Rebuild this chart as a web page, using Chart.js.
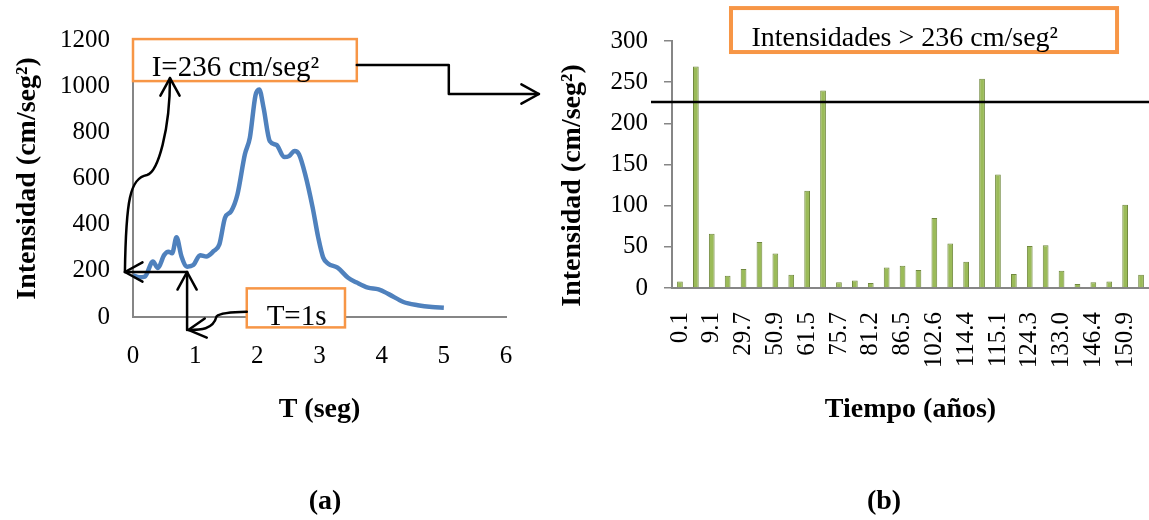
<!DOCTYPE html>
<html>
<head>
<meta charset="utf-8">
<script src="https://cdn.jsdelivr.net/npm/chart.js@4.4.0/dist/chart.umd.min.js"></script>
<style>
  body { margin: 0; background: #fff; }
  #wrap { position: relative; width: 1149px; height: 520px; overflow: hidden; }
  #chartA { position: absolute; left: 0; top: 0; }
  #chartB { position: absolute; left: 556px; top: 0; }
  .cap { position: absolute; top: 483px; transform: translateX(-50%); font: bold 28px 'Liberation Serif', serif; line-height: 34px; }
</style>
</head>
<body>
<div id="wrap">
  <canvas id="chartA" width="556" height="520"></canvas>
  <canvas id="chartB" width="593" height="520"></canvas>
  <div class="cap" style="left:325px">(a)</div>
  <div class="cap" style="left:884px">(b)</div>
</div>
<script>
const FONT = "'Liberation Serif', 'Times New Roman', serif";
const GREY = '#868686';
const ORANGE = '#F79646';

// (a) espectro de respuesta
const periodT = [0, 0.1, 0.19, 0.32, 0.4, 0.5, 0.57, 0.63, 0.7, 0.78, 0.87, 0.97, 1.08, 1.18, 1.3, 1.39, 1.48, 1.58, 1.68, 1.8, 1.88, 1.97, 2.03, 2.1, 2.2, 2.31, 2.43, 2.51, 2.6, 2.67, 2.77, 2.89, 2.98, 3.06, 3.14, 3.29, 3.46, 3.6, 3.78, 3.95, 4.12, 4.35, 4.58, 4.81, 5.0];
const intensityA = [180, 172, 175, 240, 212, 268, 283, 276, 345, 262, 218, 225, 268, 262, 286, 315, 430, 459, 531, 705, 777, 960, 986, 907, 762, 745, 693, 697, 719, 705, 618, 474, 344, 257, 231, 214, 170, 149, 127, 120, 98, 65, 51, 43, 40];

// (b) intensidades en el tiempo
const years = ['0.1', '', '9.1', '', '29.7', '', '50.9', '', '61.5', '', '75.7', '', '81.2', '', '86.5', '', '102.6', '', '114.4', '', '115.1', '', '124.3', '', '133.0', '', '146.4', '', '150.9', ''];
const intensityB = [8, 269, 66, 15, 23, 56, 42, 16, 118, 240, 7, 9, 6, 25, 27, 22, 85, 54, 32, 254, 138, 17, 51, 52, 21, 5, 7, 8, 101, 16];
const threshold = 226;

Chart.defaults.font.family = FONT;
Chart.defaults.color = '#000';

function arrowHead(ctx, tx, ty, fx, fy) {
  const a = Math.atan2(fy - ty, fx - tx), len = 20, ang = 0.5;
  ctx.beginPath();
  ctx.moveTo(tx + len * Math.cos(a + ang), ty + len * Math.sin(a + ang));
  ctx.lineTo(tx, ty);
  ctx.lineTo(tx + len * Math.cos(a - ang), ty + len * Math.sin(a - ang));
  ctx.stroke();
}

function noteBox(ctx, x1, y1, x2, y2, lw) {
  ctx.fillStyle = '#fff';
  ctx.fillRect(x1, y1, x2 - x1, y2 - y1);
  ctx.strokeStyle = ORANGE;
  ctx.lineWidth = lw;
  ctx.strokeRect(x1, y1, x2 - x1, y2 - y1);
}

// notas y flechas del panel (a)
const notesA = {
  id: 'notesA',
  afterDraw(chart) {
    const { ctx, scales: { x, y } } = chart;
    const X = v => x.getPixelForValue(v), Y = v => y.getPixelForValue(v);
    ctx.save();
    noteBox(ctx, X(0), Y(1204), X(3.6), Y(1022), 2.5);
    noteBox(ctx, X(1.83), Y(124), X(3.41), Y(-45), 2.5);
    ctx.fillStyle = '#000';
    ctx.font = '29px ' + FONT;
    ctx.textBaseline = 'alphabetic';
    ctx.fillText('I=236 cm/seg²', X(0.3), Y(1044));
    ctx.fillText('T=1s', X(2.15), Y(-35));

    ctx.strokeStyle = '#000';
    ctx.lineWidth = 2.5;
    ctx.lineCap = 'round';
    ctx.lineJoin = 'round';
    // hacia el panel (b)
    ctx.beginPath();
    ctx.moveTo(X(3.6), Y(1092));
    ctx.lineTo(X(5.08), Y(1092));
    ctx.lineTo(X(5.08), Y(966));
    ctx.lineTo(X(6.53), Y(966));
    ctx.stroke();
    arrowHead(ctx, X(6.53), Y(966), X(5.08), Y(966));
    // curva hacia I=236
    ctx.beginPath();
    ctx.moveTo(X(-0.13), Y(195));
    ctx.bezierCurveTo(X(-0.113), Y(507), X(-0.048), Y(602), X(0.225), Y(615));
    ctx.bezierCurveTo(X(0.402), Y(628), X(0.595), Y(810), X(0.595), Y(1035));
    ctx.stroke();
    arrowHead(ctx, X(0.595), Y(1035), X(0.595), Y(900));
    // horizontal y vertical
    ctx.beginPath();
    ctx.moveTo(X(0.87), Y(195));
    ctx.lineTo(X(-0.13), Y(195));
    ctx.stroke();
    arrowHead(ctx, X(-0.13), Y(195), X(0.87), Y(195));
    ctx.beginPath();
    ctx.moveTo(X(0.87), Y(-56));
    ctx.lineTo(X(0.87), Y(195));
    ctx.stroke();
    arrowHead(ctx, X(0.87), Y(195), X(0.87), Y(-56));
    // desde T=1s
    ctx.beginPath();
    ctx.moveTo(X(1.83), Y(23));
    ctx.bezierCurveTo(X(1.53), Y(22), X(1.4), Y(17), X(1.345), Y(3));
    ctx.bezierCurveTo(X(1.29), Y(-56), X(1.08), Y(-56), X(0.89), Y(-56));
    ctx.stroke();
    arrowHead(ctx, X(0.89), Y(-56), X(1.1), Y(-50));
    ctx.restore();
  }
};

// recuadro y umbral del panel (b)
const notesB = {
  id: 'notesB',
  afterDraw(chart) {
    const { ctx, scales: { x, y } } = chart;
    const X = v => x.getPixelForValue(v), Y = v => y.getPixelForValue(v);
    ctx.save();
    ctx.strokeStyle = '#000';
    ctx.lineWidth = 2.5;
    ctx.beginPath();
    ctx.moveTo(X(-1.82), Y(threshold));
    ctx.lineTo(chart.width, Y(threshold));
    ctx.stroke();
    noteBox(ctx, X(3.21), Y(340), X(27.49), Y(286.6), 4);
    ctx.fillStyle = '#000';
    ctx.font = '28px ' + FONT;
    ctx.fillText('Intensidades > 236 cm/seg²', X(4.5), Y(294));
    ctx.restore();
  }
};

const titleFont = { family: FONT, size: 28, weight: 'bold' };
const tickFont = { family: FONT, size: 25 };
const plain = v => String(v);

new Chart(document.getElementById('chartA'), {
  type: 'line',
  data: {
    datasets: [{
      data: periodT.map((t, i) => ({ x: t, y: intensityA[i] })),
      borderColor: '#4F81BD',
      borderWidth: 4.5,
      pointRadius: 0,
      cubicInterpolationMode: 'monotone',
      fill: false
    }]
  },
  options: {
    responsive: false,
    animation: false,
    layout: { padding: { top: 40, right: 50, left: 0, bottom: 0 } },
    plugins: { legend: { display: false }, tooltip: { enabled: false } },
    scales: {
      x: {
        type: 'linear', min: 0, max: 6,
        ticks: { stepSize: 1, padding: 24, font: tickFont, callback: plain },
        grid: { display: false, drawTicks: false },
        border: { display: true, color: GREY, width: 2 },
        title: { display: true, text: 'T (seg)', font: titleFont, padding: { top: 0, bottom: 93 } },
        afterFit(s) { s.height = 203; s.paddingLeft = 0; s.paddingRight = 0; }
      },
      y: {
        min: 0, max: 1200,
        ticks: { stepSize: 200, padding: 23, font: tickFont, callback: plain },
        grid: { display: false, drawTicks: false },
        border: { display: true, color: GREY, width: 2 },
        title: { display: true, text: 'Intensidad (cm/seg²)', font: titleFont, padding: { top: 11, bottom: 0 } },
        afterFit(s) { s.width = 133; }
      }
    }
  },
  plugins: [notesA]
});

new Chart(document.getElementById('chartB'), {
  type: 'bar',
  data: {
    labels: years,
    datasets: [{
      data: intensityB,
      backgroundColor: '#9BBB59',
      borderColor: '#71893F',
      borderWidth: 1,
      barPercentage: 0.36,
      categoryPercentage: 1
    }]
  },
  options: {
    responsive: false,
    animation: false,
    layout: { padding: { top: 41, right: 0, left: 0, bottom: 0 } },
    plugins: { legend: { display: false }, tooltip: { enabled: false } },
    scales: {
      x: {
        ticks: { autoSkip: false, maxRotation: 90, minRotation: 90, padding: 24, font: tickFont },
        grid: { display: false, drawTicks: false },
        border: { display: true, color: GREY, width: 2 },
        title: { display: true, text: 'Tiempo (años)', font: titleFont, padding: { top: 0, bottom: 93 } },
        afterFit(s) { s.height = 232; s.paddingLeft = 0; s.paddingRight = 0; }
      },
      y: {
        min: 0, max: 300,
        ticks: { stepSize: 50, padding: 16, font: tickFont, callback: plain },
        grid: { drawOnChartArea: false, drawTicks: true, tickLength: 8, color: GREY, lineWidth: 1.5 },
        border: { display: true, color: GREY, width: 2 },
        // trailing en-spaces push the title down to sit like the reference
        title: { display: true, text: 'Intensidad (cm/seg²)\u2002\u2002\u2002', font: titleFont, padding: { top: 0, bottom: 0 } },
        afterFit(s) { s.width = 116; }
      }
    }
  },
  plugins: [notesB]
});
</script>
</body>
</html>
